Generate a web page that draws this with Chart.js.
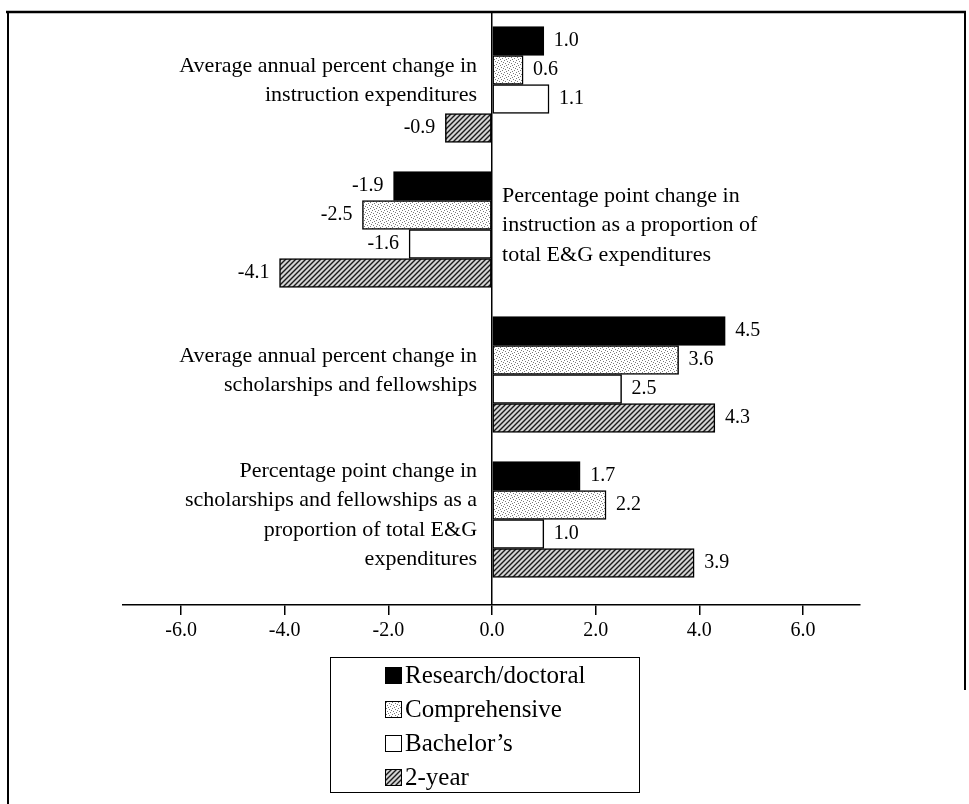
<!DOCTYPE html>
<html>
<head>
<meta charset="utf-8">
<script src="https://cdn.jsdelivr.net/npm/chart.js@4.4.1/dist/chart.umd.min.js"></script>
<style>
html, body { margin: 0; padding: 0; background: #fff; }
#wrap { position: relative; width: 969px; height: 804px; overflow: hidden; }
#legend {
  position: absolute; left: 330px; top: 657px; width: 310px; height: 136px;
  border: 1.5px solid #000; box-sizing: border-box;
  font-family: "Liberation Serif", serif; font-size: 25px; color: #000;
}
.item { height: 34px; padding-left: 54px; display: flex; align-items: center; }
.box { width: 17px; height: 17px; box-sizing: border-box; border: 1px solid #000; margin-right: 3px; }
</style>
</head>
<body>
<div id="wrap">
  <canvas id="c" width="969" height="804"></canvas>
  <div id="legend"></div>
</div>
<script>
const categories = [
  ["Average annual percent change in", "instruction expenditures"],
  ["Percentage point change in", "instruction as a proportion of", "total E&G expenditures"],
  ["Average annual percent change in", "scholarships and fellowships"],
  ["Percentage point change in", "scholarships and fellowships as a", "proportion of total E&G", "expenditures"]
];
const labelSide = ["left", "right", "left", "left"];
const seriesNames = ["Research/doctoral", "Comprehensive", "Bachelor\u2019s", "2-year"];
const researchDoctoral = [1.0, -1.9, 4.5, 1.7];
const comprehensive = [0.6, -2.5, 3.6, 2.2];
const bachelors = [1.1, -1.6, 2.5, 1.0];
const twoYear = [-0.9, -4.1, 4.3, 3.9];
const xTicks = [-6, -4, -2, 0, 2, 4, 6];

const FONT = '"Liberation Serif", "Times New Roman", serif';

// fill patterns
function dotCanvas() {
  const c = document.createElement('canvas');
  c.width = c.height = 6;
  const g = c.getContext('2d');
  g.fillStyle = '#fff';
  g.fillRect(0, 0, 6, 6);
  g.fillStyle = '#7a7a7a';
  [[0, 0], [3, 1], [1, 3], [4, 4], [2, 5], [5, 2]].forEach(p => g.fillRect(p[0], p[1], 1, 1));
  return c;
}
function hatchCanvas() {
  const c = document.createElement('canvas');
  c.width = c.height = 5;
  const g = c.getContext('2d');
  g.fillStyle = '#d4d4d4';
  g.fillRect(0, 0, 5, 5);
  g.strokeStyle = '#1a1a1a';
  g.lineWidth = 1.4;
  g.beginPath();
  g.moveTo(0, 5); g.lineTo(5, 0);
  g.moveTo(-1, 1); g.lineTo(1, -1);
  g.moveTo(4, 6); g.lineTo(6, 4);
  g.stroke();
  return c;
}

const ctx = document.getElementById('c').getContext('2d');
const dotC = dotCanvas();
const hatchC = hatchCanvas();
const fills = ['#000', ctx.createPattern(dotC, 'repeat'), '#fff', ctx.createPattern(hatchC, 'repeat')];
const swatches = ['#000', 'url(' + dotC.toDataURL() + ')', '#fff', 'url(' + hatchC.toDataURL() + ')'];
const seriesValues = [researchDoctoral, comprehensive, bachelors, twoYear];

const datasets = seriesValues.map((vals, s) => ({
  label: seriesNames[s],
  data: vals.map((v, i) => ({ x: v, y: i })),
  backgroundColor: fills[s],
  borderColor: '#000',
  borderWidth: 1.5,
  borderSkipped: false,
  barThickness: 29
}));

const frame = {
  id: 'frame',
  beforeDraw(chart) {
    const g = chart.ctx;
    g.save();
    g.strokeStyle = '#000';
    g.lineWidth = 2.5;
    g.beginPath();
    g.moveTo(6, 12); g.lineTo(966, 12);
    g.stroke();
    g.lineWidth = 2;
    g.beginPath();
    g.moveTo(8, 12); g.lineTo(8, 804);
    g.moveTo(965, 12); g.lineTo(965, 690);
    g.stroke();
    g.restore();
  }
};

const catLabels = {
  id: 'catLabels',
  afterDatasetsDraw(chart) {
    const g = chart.ctx, ys = chart.scales.y, xs = chart.scales.x;
    const x0 = xs.getPixelForValue(0);
    g.save();
    g.font = '22px ' + FONT;
    g.fillStyle = '#000';
    g.textBaseline = 'middle';
    categories.forEach((lines, i) => {
      const cy = ys.getPixelForValue(i);
      const lh = 29.5;
      const start = cy - (lines.length - 1) * lh / 2 - 4;
      lines.forEach((t, k) => {
        if (labelSide[i] === 'left') {
          g.textAlign = 'right';
          g.fillText(t, x0 - 15, start + k * lh);
        } else {
          g.textAlign = 'left';
          g.fillText(t, x0 + 10, start + k * lh);
        }
      });
    });
    g.restore();
  }
};

const valueLabels = {
  id: 'valueLabels',
  afterDatasetsDraw(chart) {
    const g = chart.ctx;
    g.save();
    g.font = '20px ' + FONT;
    g.fillStyle = '#000';
    g.textBaseline = 'middle';
    chart.data.datasets.forEach((ds, d) => {
      chart.getDatasetMeta(d).data.forEach((el, i) => {
        const v = ds.data[i].x;
        if (v >= 0) {
          g.textAlign = 'left';
          g.fillText(v.toFixed(1), el.x + 10, el.y);
        } else {
          g.textAlign = 'right';
          g.fillText(v.toFixed(1), el.x - 10, el.y);
        }
      });
    });
    g.restore();
  }
};

new Chart(ctx, {
  type: 'bar',
  data: { datasets: datasets },
  options: {
    responsive: false,
    animation: false,
    indexAxis: 'y',
    layout: { padding: { left: 123, right: 109, top: 12, bottom: 159 } },
    plugins: { legend: { display: false }, tooltip: { enabled: false } },
    scales: {
      x: {
        type: 'linear',
        min: -7.12,
        max: 7.1,
        afterBuildTicks: s => { s.ticks = xTicks.map(v => ({ value: v })); },
        afterFit: s => { s.height = 40; },
        border: { display: true, color: '#000', width: 1.5 },
        grid: {
          color: c => (c.tick && c.tick.value === 0) ? '#000' : 'rgba(0,0,0,0)',
          lineWidth: 1.5,
          tickColor: '#000',
          tickLength: 10
        },
        ticks: {
          color: '#000',
          font: { family: FONT, size: 20 },
          padding: 4,
          maxRotation: 0,
          callback: v => v.toFixed(1)
        }
      },
      y: {
        type: 'linear', reverse: true, min: -0.5, max: 3.59, display: false,
        offset: false, grid: { offset: false }
      }
    }
  },
  plugins: [frame, catLabels, valueLabels]
});

// html legend
const legend = document.getElementById('legend');
seriesNames.forEach((name, s) => {
  const row = document.createElement('div');
  row.className = 'item';
  const box = document.createElement('span');
  box.className = 'box';
  box.style.background = swatches[s];
  const txt = document.createElement('span');
  txt.textContent = name;
  row.appendChild(box);
  row.appendChild(txt);
  legend.appendChild(row);
});
</script>
</body>
</html>
